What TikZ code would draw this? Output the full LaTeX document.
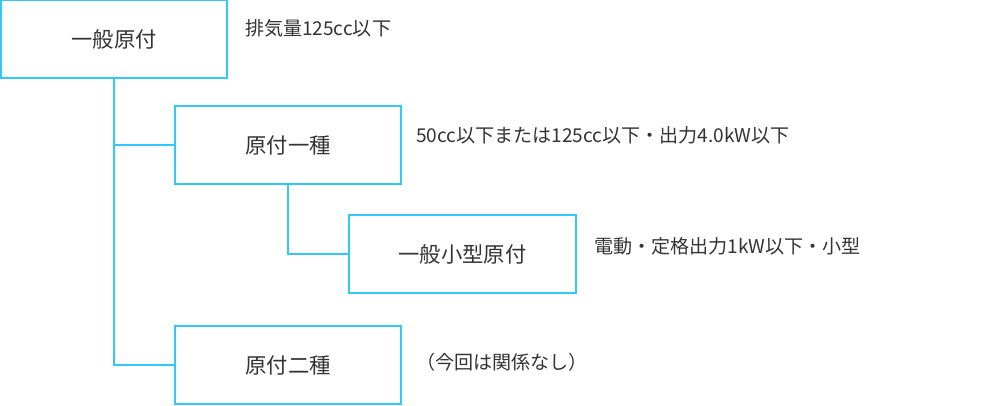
\documentclass[tikz,border=0pt]{standalone}
\usepackage{fontspec}
\setmainfont{Noto Sans CJK JP}
\definecolor{frame}{RGB}{51,200,250}
\definecolor{ink}{RGB}{51,51,51}
\begin{document}
\begin{tikzpicture}[x=0.75pt, y=-0.75pt, node distance=0 cm, outer sep = 0pt]
  \tikzstyle{box}=[
    draw=frame,
    rectangle,
    minimum height=58.5pt,
    minimum width=170pt,
    anchor=center,
    line width=1.5pt,
    text=ink,
    font=\fontsize{16}{18}\selectfont
  ]
  \tikzstyle{note} = [anchor=west, inner sep=0pt, text=ink, font=\fontsize{14.3}{16}\selectfont]
  \tikzstyle{link} = [line width=1.5pt, draw=frame]
  \useasboundingbox (0,0) rectangle (1000,405);

  \node[box] (general) at (114,39) {一般原付};
  \node[note] (generalnote) at (245,28) {排気量125cc以下};

  \node[box] (first) at (288,145) {原付一種};
  \node[note] (firstnote) at (416,135) {50cc以下または125cc以下・出力4.0kW以下};
  \draw[link] (general.south) |- (first.west);

  \node[box] (small) at (462.5,254) {一般小型原付};
  \node[note] (smallnote) at (594,246) {電動・定格出力1kW以下・小型};
  \draw[link] (first.south) |- (small.west);

  \node[box] (second) at (288,365) {原付二種};
  \node[note] (secondnote) at (416,362) {（今回は関係なし）};
  \draw[link] (general.south) |- (second.west);
\end{tikzpicture}
\end{document}
